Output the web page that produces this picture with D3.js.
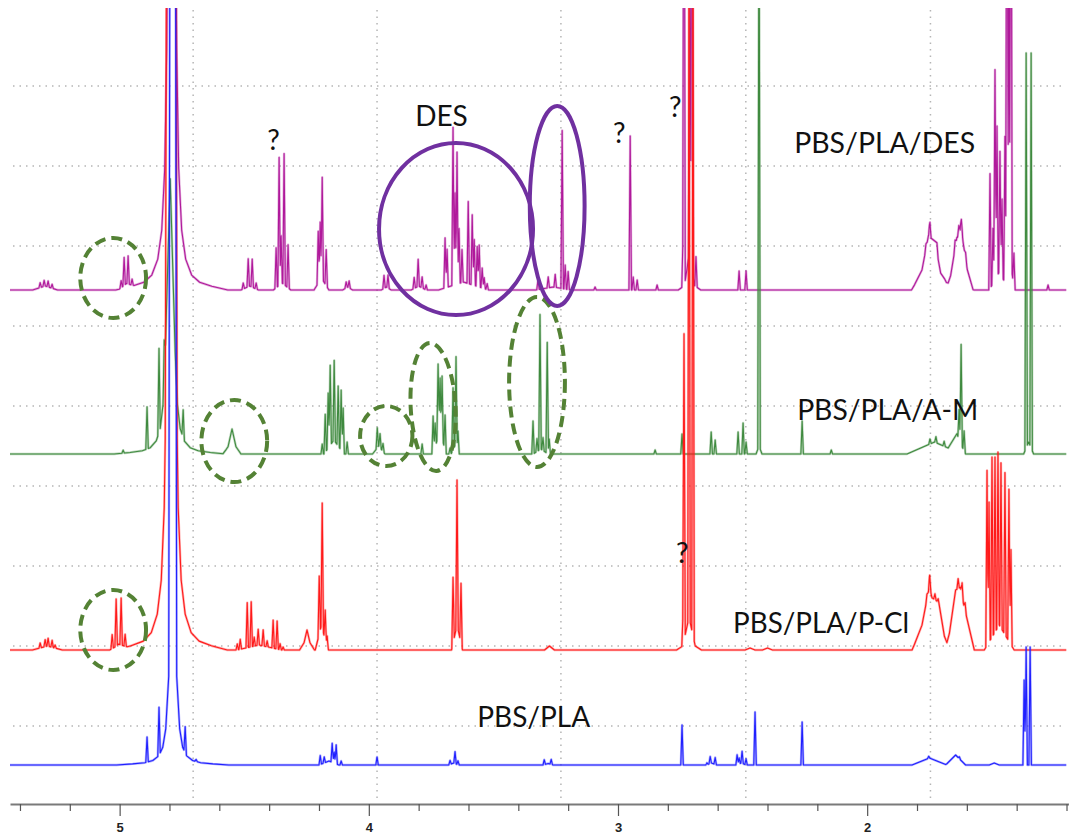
<!DOCTYPE html>
<html><head><meta charset="utf-8">
<script src="https://cdn.jsdelivr.net/npm/d3@7"></script>
<style>body{margin:0;background:#fff;overflow:hidden}</style>
</head><body>
<svg id="chart" width="1069" height="837"></svg>
<script>
// ---------- data (ppm, intensity, optional half-width in ppm) ----------
const seriesNames = ["PBS/PLA/DES", "PBS/PLA/A-M", "PBS/PLA/P-Cl", "PBS/PLA"];
const seriesOffsets = [514, 350, 154, 39];

const desPeaks = [
  [5.299,4,0.05],[5.319,5],[5.303,6],[5.287,6],[5.271,4],
  [4.972,4,0.03],[4.994,7],[4.982,28],[4.966,28],[4.950,6],
  [4.791,400,0.020],[4.791,270,0.028],[4.791,134,0.040],[4.791,64,0.056],
  [4.791,35,0.080],[4.791,16,0.112],[4.791,4,0.161],[4.791,13,0.225],
  [4.478,4,0.035],[4.504,6],[4.484,28],[4.468,28],[4.452,6],
  [4.348,7,0.035],[4.372,40],[4.360,128],[4.352,48],[4.340,131],[4.324,43],
  [4.19,12,0.03],[4.203,52],[4.195,58],[4.187,102],[4.171,36],
  [4.085,3,0.02],[4.091,6],[4.079,7],
  [3.93,3,0.02],[3.939,13],[3.923,13],
  [3.80,4,0.03],[3.818,11],[3.802,27],[3.786,11],[3.770,5],
  [3.62,8,0.10],[3.694,50],[3.686,38],[3.662,158],[3.654,92],[3.646,132],[3.638,55],[3.626,33],
  [3.601,82],[3.585,70],[3.577,46],[3.565,40],[3.557,42],[3.545,20],[3.537,11],[3.525,6],
  [3.26,3,0.07],[3.321,10],[3.280,11],[3.252,13],[3.224,158],[3.212,24],[3.200,18],
  [3.092,3],[2.951,154],[2.939,13],[2.923,10],[2.843,5],
  [2.713,30,0.02],[2.713,8,0.045],[2.739,50],[2.735,600],[2.711,250],[2.703,600],[2.687,30],
  [2.514,19],[2.486,19],
  [1.69,8,0.12],
  [1.752,30,0.07],[1.750,25,0.03],[1.725,20,0.02],[1.764,5],[1.748,12],[1.720,10],
  [1.625,40,0.05],[1.640,20,0.025],[1.618,15,0.02],[1.647,8],[1.632,8],[1.622,12],[1.605,6],
  [1.47,18,0.04],[1.43,40,0.02],
  [1.507,115],[1.495,55],[1.487,210],[1.479,150],[1.467,122],[1.459,78],[1.447,140],
  [1.439,600],[1.431,280],[1.423,600],[1.411,35],
  [1.274,5]
];

const amPeaks = [
  [4.986,3],
  [4.890,42],[4.842,84],[4.821,38],
  [4.797,50,0.020],[4.797,113,0.028],[4.797,56,0.040],[4.797,27,0.056],
  [4.797,15,0.080],[4.797,7,0.112],[4.797,1.6,0.161],[4.797,5.5,0.225],
  [4.745,28],
  [4.549,13,0.036],[4.549,12,0.016],
  [4.14,14,0.04],[4.187,10],[4.175,38],[4.163,55],[4.155,80],[4.139,80],[4.123,60],[4.111,60],[4.103,45],[4.087,12],
  [3.96,8,0.025],[3.966,20],[3.955,14],[3.943,8],
  [3.786,10],
  [3.715,25,0.025],[3.655,8,0.015],
  [3.742,38],[3.734,25],[3.722,72],[3.714,52],[3.706,62],[3.694,35],[3.674,6],[3.662,62],[3.650,92],[3.642,22],
  [3.31,5,0.03],[3.341,33],[3.325,13],[3.313,135],[3.301,13],[3.284,111],[3.276,15],
  [2.851,4],[2.743,20],
  [2.626,22],[2.610,14],
  [2.518,22],[2.498,31],[2.486,12],
  [2.434,8,0.012],[2.434,600],
  [2.261,33],[2.144,4],
  [1.73,12,0.11],[1.64,18,0.035],
  [1.748,5],[1.724,6],[1.691,5],[1.631,30],[1.623,100],[1.611,20],
  [1.352,12,0.02],[1.362,395],[1.342,395]
];

const pclPeaks = [
  [5.29,4,0.06],[5.319,5],[5.299,7],[5.287,8],[5.271,7],[5.259,3],
  [5.005,5,0.035],[5.030,14],[5.014,47],[4.994,47],[4.978,12],
  [4.793,2000,0.024],[4.793,316,0.028],[4.793,157,0.040],[4.793,75,0.056],
  [4.793,41,0.080],[4.793,19,0.112],[4.793,4.4,0.161],[4.793,15,0.225],
  [4.44,5,0.09],[4.528,6],[4.516,10],[4.488,45],[4.472,45],[4.460,9],[4.444,16],[4.424,16],
  [4.408,6],[4.384,28],[4.368,28],[4.356,6],[4.344,3],
  [4.248,12,0.03],[4.248,8,0.012],
  [4.19,25,0.025],[4.199,58],[4.187,125],[4.175,30],[4.167,12],
  [3.646,25,0.022],[3.662,66],[3.646,145],[3.630,60],
  [3.275,4,0.02],
  [2.715,25,0.025],[2.715,8,0.05],[2.739,32],[2.735,300],[2.715,700],[2.699,700],
  [2.47,2,0.02],[2.40,2,0.02],
  [1.69,8,0.12],
  [1.750,40,0.07],[1.750,20,0.03],[1.715,25,0.025],[1.749,12],[1.728,6],[1.760,5],
  [1.625,55,0.055],[1.645,20,0.025],[1.619,15],[1.635,10],[1.607,8],
  [1.47,25,0.06],
  [1.519,175],[1.511,140],[1.499,180],[1.487,175],[1.475,175],[1.463,165],[1.447,162],[1.431,152],[1.423,95]
];

const plaPeaks = [
  [4.890,25],[4.842,48],[4.737,26],[4.693,2],
  [4.787,2600,0.016],[4.787,80,0.028],[4.787,40,0.040],[4.787,19,0.056],
  [4.787,10,0.080],[4.787,5,0.112],[4.787,1,0.161],[4.787,4,0.225],
  [4.16,4,0.04],[4.195,9],[4.179,6],[4.147,19],[4.139,11],[4.131,19],[4.111,4],
  [3.967,8],
  [3.66,2,0.02],[3.674,4],[3.654,12],[3.642,4],
  [3.28,1.5,0.02],[3.296,5],[3.268,5],
  [2.743,40],
  [2.625,2,0.02],[2.643,2],[2.630,7],[2.610,7],
  [2.505,2,0.02],[2.522,10],[2.514,6],[2.502,12],[2.486,6],
  [2.450,53],[2.261,43],
  [1.75,7,0.07],[1.645,10,0.04],[1.753,2],[1.630,2],
  [1.49,2,0.02],
  [1.370,85],[1.362,118],[1.346,118]
];

const seriesPeaks = [desPeaks, amPeaks, pclPeaks, plaPeaks];
const seriesColors = ["#b0199b", "#3f8a3f", "#ff1a1a", "#2020ff"];
const drawOrder = [0, 1, 2, 3];

const tickValues = [5.4,5.2,5.0,4.8,4.6,4.4,4.2,4.0,3.8,3.6,3.4,3.2,3.0,2.8,2.6,2.4,2.2,2.0,1.8,1.6,1.4,1.2];
const tickLabels = {"5.0":"5","4.0":"4","3.0":"3","2.0":"2"};
const gridPpm = [4.705, 3.967, 3.229, 2.487, 1.746];
const gridLevels = [718, 638, 558, 478, 398, 318, 238, 158, 78];

// annotations: [ppm, level, rx(ppm), ry(level), rotation]
const dashedRings = [
  [5.026, 526, 0.132, 40, 0],
  [4.540, 363, 0.132, 41, 0],
  [3.930, 368, 0.105, 30, 0],
  [3.742, 397, 0.090, 64, -3],
  [3.325, 422, 0.112, 85, 0],
  [5.026, 174, 0.132, 40, 0]
];
const solidRings = [
  [3.650, 575, 0.309, 86, 0],
  [3.244, 598, 0.110, 100, 0]
];
const labelTexts = [
  ["PBS/PLA/DES", 2.293, 651, 181],
  ["PBS/PLA/A-M", 2.281, 384, 181],
  ["PBS/PLA/P-Cl", 2.538, 171, 176],
  ["PBS/PLA", 3.565, 77, 113]
];
const markTexts = [
  ["DES", 3.814, 678],
  ["?", 4.408, 654],
  ["?", 3.020, 661],
  ["?", 2.795, 687],
  ["?", 2.767, 241]
];

// ---------- drawing ----------
const svg = d3.select("#chart");
const x = d3.scaleLinear().domain([5.44, 1.19]).range([10, 1069]);
const y = d3.scaleLinear().domain([0, 796]).range([804, 8]);
const SPIKE = 0.005;
const lo = 1.20, hi = 5.44;

svg.append("defs").append("clipPath").attr("id", "plotclip")
  .append("rect").attr("x", x(hi)).attr("y", y(796)).attr("width", x(lo) - x(hi)).attr("height", y(0) - y(796));

// grid
const grid = svg.append("g").attr("stroke", "#b5b5b5").attr("stroke-width", 1.5).attr("stroke-dasharray", "1.5,5");
grid.selectAll("line.v").data(gridPpm).join("line").attr("class", "v")
  .attr("x1", d => x(d)).attr("x2", d => x(d)).attr("y1", y(794)).attr("y2", y(4));
grid.selectAll("line.h").data(gridLevels).join("line").attr("class", "h")
  .attr("x1", 13).attr("x2", 1064).attr("y1", d => y(d)).attr("y2", d => y(d));

function buildTrace(peaks) {
  const pts = new Set([hi, lo]);
  peaks.forEach(([p, h, w = SPIKE]) => { pts.add(p - w); pts.add(p); pts.add(p + w); });
  const arr = Array.from(pts).filter(p => p >= lo && p <= hi).sort((a, b) => b - a);
  return arr.map(p => [p, d3.sum(peaks, ([c, h, w = SPIKE]) => Math.max(0, h * (1 - Math.abs(p - c) / w)))]);
}

const traces = svg.append("g").attr("clip-path", "url(#plotclip)");
drawOrder.forEach(i => {
  const off = seriesOffsets[i];
  const line = d3.line().x(d => x(d[0])).y(d => y(off + d[1]));
  const data = buildTrace(seriesPeaks[i]);
  traces.append("path").datum(data)
    .attr("fill", "none").attr("stroke", seriesColors[i]).attr("stroke-opacity", 0.35)
    .attr("stroke-width", 2.4).attr("stroke-linejoin", "round").attr("d", line);
  traces.append("path").datum(data)
    .attr("fill", "none").attr("stroke", seriesColors[i])
    .attr("stroke-width", 1.1).attr("stroke-linejoin", "round").attr("d", line);
});

// axis
const axis = d3.axisBottom(x).tickValues(tickValues)
  .tickFormat(d => tickLabels[d.toFixed(1)] || "").tickSizeOuter(0);
const ax = svg.append("g").attr("transform", `translate(0,${y(0)})`).call(axis);
ax.select(".domain").attr("stroke", "#7a7a7a").attr("stroke-width", 2);
ax.selectAll(".tick line").attr("stroke", "#555").attr("stroke-width", 1.2)
  .attr("y2", d => tickLabels[d.toFixed(1)] ? 12 : 7);
ax.selectAll(".tick text").attr("y", 19).attr("font-family", "'Liberation Sans Narrow', 'Liberation Sans', Arial, sans-serif")
  .attr("font-size", 13).attr("font-weight", "bold").attr("fill", "#222");

// annotations
function ring(g, d, color, dash) {
  const [p, v, rp, rv, rot] = d;
  const cx = x(p), cy = y(v);
  g.append("ellipse").attr("cx", cx).attr("cy", cy)
    .attr("rx", Math.abs(x(p + rp) - cx)).attr("ry", Math.abs(y(v + rv) - cy))
    .attr("transform", `rotate(${rot},${cx},${cy})`)
    .attr("fill", "none").attr("stroke", color).attr("stroke-width", 4)
    .attr("stroke-dasharray", dash);
}
const ann = svg.append("g");
dashedRings.forEach(d => ring(ann, d, "#548235", "11,6"));
solidRings.forEach(d => ring(ann, d, "#7030a0", null));

const txt = svg.append("g").attr("font-family", "Lato, 'Open Sans', sans-serif").attr("fill", "#111");
labelTexts.forEach(([t, p, v, w]) => {
  txt.append("text").attr("x", x(p)).attr("y", y(v)).attr("font-size", 29)
    .attr("textLength", w).attr("lengthAdjust", "spacingAndGlyphs").text(t);
});
markTexts.forEach(([t, p, v]) => {
  txt.append("text").attr("x", x(p)).attr("y", y(v)).attr("font-size", 28).text(t);
});
</script>
</body></html>
